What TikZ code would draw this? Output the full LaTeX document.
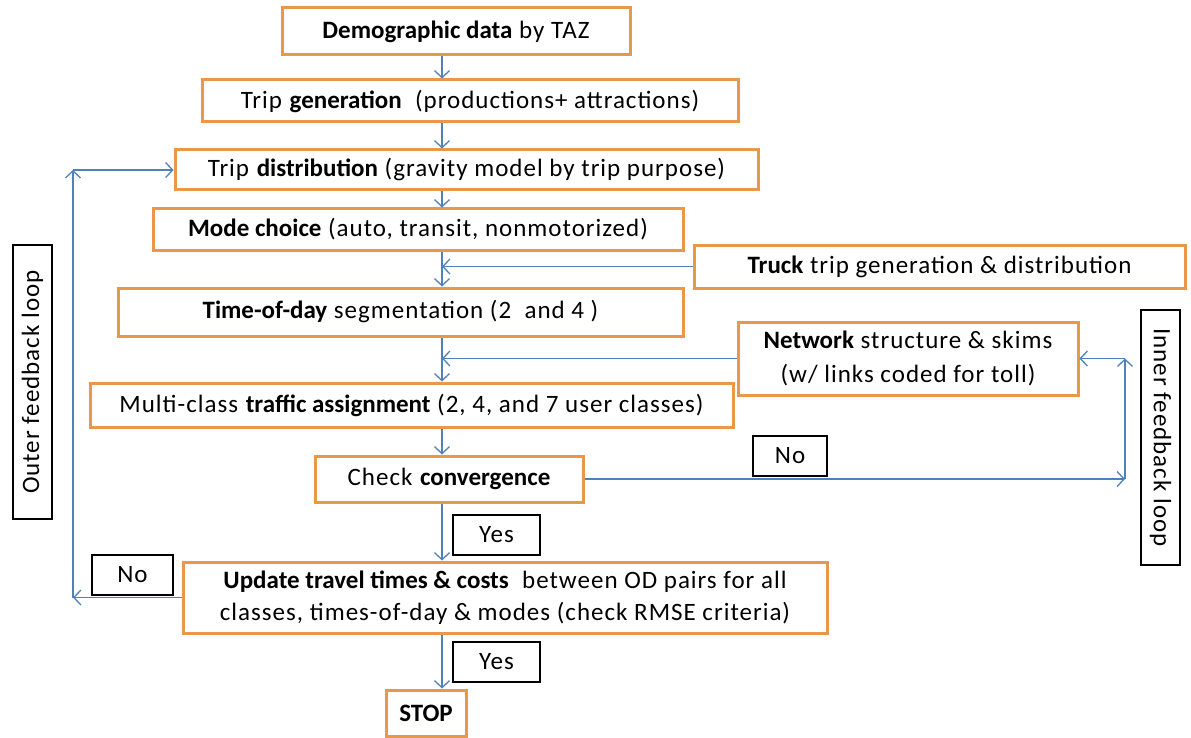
\documentclass[tikz,border=0pt]{standalone}
\usepackage{fontspec}
\setmainfont{Carlito}[LetterSpace=4, BoldFeatures={LetterSpace=0}]
\usetikzlibrary{arrows.meta}
\definecolor{boxor}{RGB}{232,152,72}
\definecolor{arrbl}{RGB}{79,129,189}
\begin{document}
\begin{tikzpicture}[x=1pt,y=-1pt,
  every node/.style={font=\fontsize{25}{34}\selectfont, inner sep=0pt},
  fbox/.style={draw=boxor, line width=3pt, fill=white, align=center},
  lbox/.style={draw=black, line width=1.3pt, fill=white, minimum width=#1, minimum height=40},
  arr/.style={draw=arrbl, line width=1.4pt, -{Straight Barb[length=7pt,width=15pt,line width=1.3pt]}},
  ln/.style={draw=arrbl, line width=1.4pt}]
\useasboundingbox (0,0) rectangle (1191,738);
% main boxes
\node[fbox, minimum width=348, minimum height=47] (demo) at (456,31.5) {\textbf{Demographic data} by TAZ};
\node[fbox, minimum width=536, minimum height=42] (gen) at (470,101) {Trip \textbf{generation}\ \ (productions+ attractions)};
\node[fbox, minimum width=583, minimum height=40] (dist) at (466.5,170) {Trip \textbf{distribution} (gravity model by trip purpose)};
\node[fbox, minimum width=530, minimum height=41] (mode) at (418,229.5) {\textbf{Mode choice} (auto, transit, nonmotorized)};
\node[fbox, minimum width=491, minimum height=43] (truck) at (939.5,266.5) {\textbf{Truck} trip generation \& distribution};
\node[fbox, minimum width=565, minimum height=48] (tod) at (400.5,312) {\textbf{Time-of-day} segmentation (2\ \ and 4 )};
\node[fbox, minimum width=340, minimum height=73] (net) at (908,358.5) {\textbf{Network} structure \& skims\\(w/ links coded for toll)};
\node[fbox, minimum width=643, minimum height=44] (multi) at (411.5,405) {Multi-class \textbf{traffic assignment} (2, 4, and 7 user classes)};
\node[fbox, minimum width=268, minimum height=46] (conv) at (449,479) {Check \textbf{convergence}};
\node[fbox, minimum width=644, minimum height=71, font=\fontsize{25}{32}\selectfont] (upd) at (505,597.5) {\textbf{Update travel times \& costs}\ \ between OD pairs for all\\classes, times-of-day \& modes (check RMSE criteria)};
\node[fbox, minimum width=80, minimum height=46] (stop) at (426,713) {\textbf{STOP}};
% labels
\node[lbox=74] (noR) at (790,456) {No};
\node[lbox=87] (yes1) at (496.5,535) {Yes};
\node[lbox=87] (yes2) at (496.5,662) {Yes};
\node[lbox=81] (noL) at (132.5,575) {No};
\node[lbox=255, minimum height=39, rotate=-90] (inner) at (1160.5,437.5) {Inner feedback loop};
\node[lbox=274, minimum height=39, rotate=90] (outer) at (32.5,382) {Outer feedback loop};
% coordinates
\coordinate (mx) at (442,0);
\coordinate (ix) at (1125,0);
\coordinate (ox) at (73,0);
% main flow
\draw[arr] (demo.south -| mx) -- (gen.north -| mx);
\draw[arr] (gen.south -| mx) -- (dist.north -| mx);
\draw[arr] (dist.south -| mx) -- (mode.north -| mx);
\draw[arr] (mode.south -| mx) -- (tod.north -| mx);
\draw[arr] (truck.west) -- (truck.west -| mx);
\draw[arr] (tod.south -| mx) -- (multi.north -| mx);
\draw[arr] (net.west) -- (net.west -| mx);
\draw[arr] (multi.south -| mx) -- (conv.north -| mx);
\draw[arr] (conv.south -| mx) -- (upd.north -| mx);
\draw[arr] (upd.south -| mx) -- (stop.north -| mx);
% inner loop
\draw[arr] (conv.east) -- (conv.east -| ix);
\draw[arr] (conv.east -| ix) -- (net.east -| ix);
\draw[arr] (net.east -| ix) -- (net.east);
% outer loop
\draw[arr] (upd.west) -- (upd.west -| ox);
\draw[arr] (upd.west -| ox) -- (dist.west -| ox);
\draw[arr] (dist.west -| ox) -- (dist.west);
\end{tikzpicture}
\end{document}
